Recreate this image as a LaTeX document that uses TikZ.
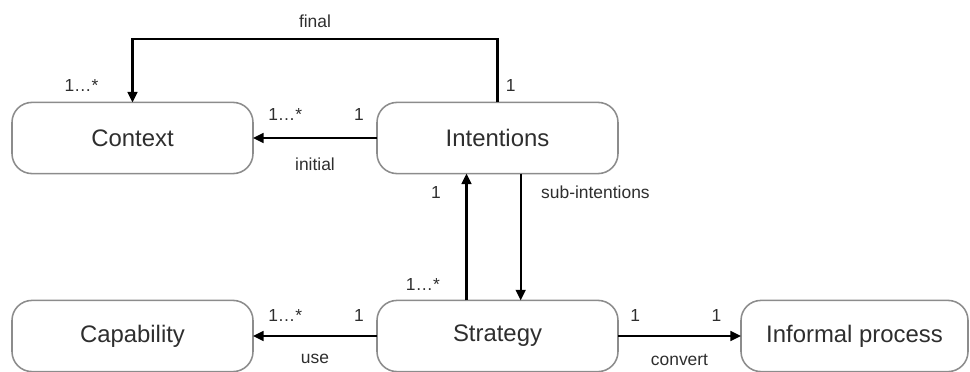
\documentclass[tikz,border=0pt]{standalone}
\usepackage{fontspec}
\setmainfont{Liberation Sans}
\usepackage{tikz}
\usetikzlibrary{arrows.meta, positioning}
\definecolor{boxgray}{HTML}{8C8C8C}
\definecolor{textgray}{HTML}{2E2E2E}

\begin{document}
\begin{tikzpicture}[
        node distance=3.17cm and 3.1cm,
        entity/.style={
            rectangle,
            rounded corners=0.5cm,
            draw=boxgray,
            line width=1.1pt,
            text=textgray,
            font=\fontsize{17}{20}\selectfont,
            minimum width=6.025cm,
            minimum height=1.78cm,
            outer sep=0pt,
            align=center
        },
        conn/.style={line width=1.5pt, -{Triangle[length=7.5pt, width=7pt]}},
        mult/.style={font=\fontsize{12.4}{14}\selectfont, text=textgray, inner sep=1pt}
    ]
    \useasboundingbox (0,0) rectangle (24.25,-9.3);

    % Upper row
    \node[entity] (context) at (3.3125,-3.45) {Context};
    \node[entity, right=of context] (intent) {Intentions};

    % Lower row
    \node[entity, below=of context] (capab) {Capability};
    \node[entity, below=of intent] (strat) {Strategy};
    \node[entity, right=3.075cm of strat, minimum width=5.675cm] (informal) {Informal process};

    % final context
    \draw[conn] (intent.north) node[mult, xshift=0.33cm, yshift=0.42cm] {1}
        -- ++(0,1.575) -| node[mult, pos=0.25, yshift=0.45cm] {final} (context.north)
        node[mult, xshift=-1.275cm, yshift=0.425cm] {1…*};

    % initial context
    \draw[conn] (intent.west) -- node[mult, pos=0.145, yshift=0.575cm] {1}
        node[mult, pos=0.74, yshift=0.575cm] {1…*}
        node[mult, pos=0.5, yshift=-0.65cm] {initial} (context.east);

    % strategy <-> intentions
    \draw[conn] ([xshift=-0.775cm]strat.north) -- node[mult, pos=0.126, xshift=-1.09cm] {1…*}
        node[mult, pos=0.85, xshift=-0.765cm] {1} ([xshift=-0.775cm]intent.south);
    \draw[conn] ([xshift=0.58cm]intent.south) -- node[mult, pos=0.15, anchor=west, xshift=0.45cm] {sub-intentions}
        ([xshift=0.58cm]strat.north);

    % use and convert
    \draw[conn] (strat.west) -- node[mult, pos=0.145, yshift=0.5cm] {1}
        node[mult, pos=0.74, yshift=0.5cm] {1…*}
        node[mult, pos=0.5, yshift=-0.575cm] {use} (capab.east);
    \draw[conn] (strat.east) -- node[mult, pos=0.14, yshift=0.5cm] {1}
        node[mult, pos=0.8, yshift=0.5cm] {1}
        node[mult, pos=0.5, yshift=-0.6cm] {convert} (informal.west);

\end{tikzpicture}
\end{document}
